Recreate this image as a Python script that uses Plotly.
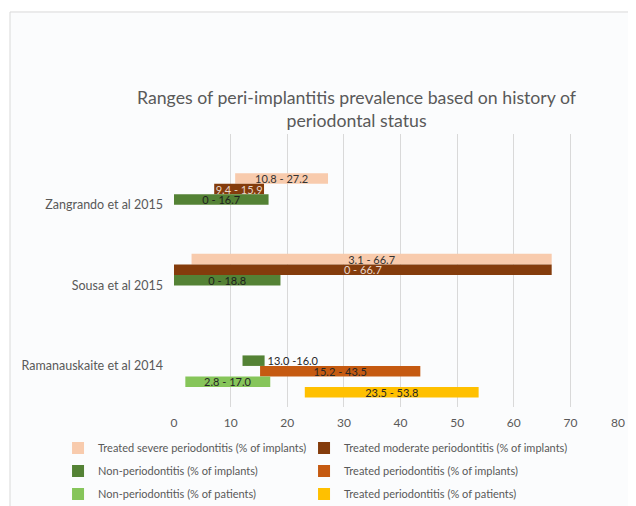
import plotly.graph_objects as go

# ---------------- data ----------------
categories = ["Zangrando et al 2015", "Sousa et al 2015", "Ramanauskaite et al 2014"]

series_names = [
    "Treated severe periodontitis (% of implants)",
    "Treated moderate periodontitis (% of implants)",
    "Non-periodontitis (% of implants)",
    "Treated periodontitis (% of implants)",
    "Non-periodontitis (% of patients)",
    "Treated periodontitis (% of patients)",
]

# bar extents as drawn in the picture; labels as printed
severe_low = [10.8, 3.1, None]
severe_high = [27.2, 66.7, None]
severe_labels = ["10.8 - 27.2", "3.1 - 66.7", ""]

moderate_low = [7.1, 0, None]
moderate_high = [15.9, 66.7, None]
moderate_labels = ["9.4 - 15.9", "0 - 66.7", ""]

nonperio_impl_low = [0, 0, 12.1]
nonperio_impl_high = [16.7, 18.8, 16.0]
nonperio_impl_labels = ["0 - 16.7", "0 - 18.8", "13.0 -16.0"]

perio_impl_low = [None, None, 15.2]
perio_impl_high = [None, None, 43.5]
perio_impl_labels = ["", "", "15.2 - 43.5"]

nonperio_pat_low = [None, None, 2.0]
nonperio_pat_high = [None, None, 17.0]
nonperio_pat_labels = ["", "", "2.8 - 17.0"]

perio_pat_low = [None, None, 23.1]
perio_pat_high = [None, None, 53.8]
perio_pat_labels = ["", "", "23.5 - 53.8"]

x_ticks = [0, 10, 20, 30, 40, 50, 60, 70, 80]

# ---------------- styles ----------------
colors = ["#F8CBAD", "#843C0C", "#548235", "#C55A11", "#86C55A", "#FFC000"]
label_colors = ["#333333", "#E8D8CC", "#1e1e1e", "#262626", "#262626", "#262626"]
legend_ids = ["legend", "legend", "legend2", "legend2", "legend3", "legend3"]
legend_widths = [201, 260, 201, 260, 201, 260]
outside_points = {(2, 2)}  # (series index, category index) placed outside the bar

lows = [severe_low, moderate_low, nonperio_impl_low, perio_impl_low, nonperio_pat_low, perio_pat_low]
highs = [severe_high, moderate_high, nonperio_impl_high, perio_impl_high, nonperio_pat_high, perio_pat_high]
labels = [severe_labels, moderate_labels, nonperio_impl_labels, perio_impl_labels, nonperio_pat_labels, perio_pat_labels]

FONT = "Lato"
GREY = "#595959"

fig = go.Figure()
for i, name in enumerate(series_names):
    ys, bases, lens, txts, pos = [], [], [], [], []
    for j, cat in enumerate(categories):
        lo, hi = lows[i][j], highs[i][j]
        if lo is None:
            continue
        ys.append(cat)
        bases.append(lo)
        lens.append(hi - lo)
        txts.append(labels[i][j])
        pos.append("outside" if (i, j) in outside_points else "inside")
    fig.add_trace(go.Bar(
        name=name,
        y=ys, x=lens, base=bases, orientation="h",
        marker=dict(color=colors[i], line=dict(width=0)),
        text=txts, textposition=pos, insidetextanchor="middle",
        textangle=0, constraintext="none", cliponaxis=False,
        textfont=dict(family=FONT, size=11,
                      color=[label_colors[i] if p == "inside" else "#262626" for p in pos]),
        outsidetextfont=dict(family=FONT, size=11, color="#262626"),
        legend=legend_ids[i],
        legendwidth=legend_widths[i],
        hoverinfo="skip",
    ))

legend_common = dict(
    orientation="h", x=-0.256, xanchor="left", yanchor="middle",
    entrywidthmode="pixels",
    font=dict(family=FONT, size=11, color=GREY),
    bgcolor="rgba(0,0,0,0)", itemclick=False,
)

# last tick label drawn right-aligned so it stays inside the visible page
tick_text = [str(v) for v in x_ticks[:-1]] + [""]
last_tick_label = dict(
    text=str(x_ticks[-1]), x=x_ticks[-1], xref="x", y=0, yref="paper",
    xanchor="right", yanchor="middle", yshift=-15, showarrow=False,
    font=dict(family=FONT, size=12, color=GREY),
)

fig.update_layout(
    width=628, height=498,
    margin=dict(l=166, r=9, t=126, b=99, autoexpand=False),
    paper_bgcolor="white",
    plot_bgcolor="rgba(0,0,0,0)",
    barmode="group", bargap=0.217, bargroupgap=0,
    font=dict(family=FONT, color=GREY),
    title=dict(
        text="Ranges of peri-implantitis prevalence based on history of<br>periodontal status",
        x=0.555, xanchor="center", xref="container",
        y=0.807, yanchor="top", yref="container",
        font=dict(family=FONT, size=17.7, color=GREY),
    ),
    xaxis=dict(
        range=[0, 80], tickvals=x_ticks, ticktext=tick_text,
        showgrid=True, gridcolor="#D9D9D9", gridwidth=1,
        zeroline=False, showline=False, ticks="",
        ticklabelstandoff=7,
        tickfont=dict(family=FONT, size=12, color=GREY),
        fixedrange=True,
    ),
    yaxis=dict(
        type="category", categoryorder="array", categoryarray=categories,
        range=[2.51, -0.88],
        showgrid=False, zeroline=False, showline=False, ticks="",
        ticklabelstandoff=10,
        tickfont=dict(family=FONT, size=12.5, color=GREY),
        fixedrange=True,
    ),
    legend=dict(**legend_common, y=-0.150),
    legend2=dict(**legend_common, y=-0.234),
    legend3=dict(**legend_common, y=-0.319),
    showlegend=True,
    annotations=[last_tick_label],
    shapes=[dict(
        type="rect", xref="paper", yref="paper",
        x0=-0.362, x1=1.2, y0=1.447, y1=-0.6,
        line=dict(color="#D9D9D9", width=1),
        fillcolor="#FBFCFD", layer="below",
    )],
)

fig.write_html("out.html")
